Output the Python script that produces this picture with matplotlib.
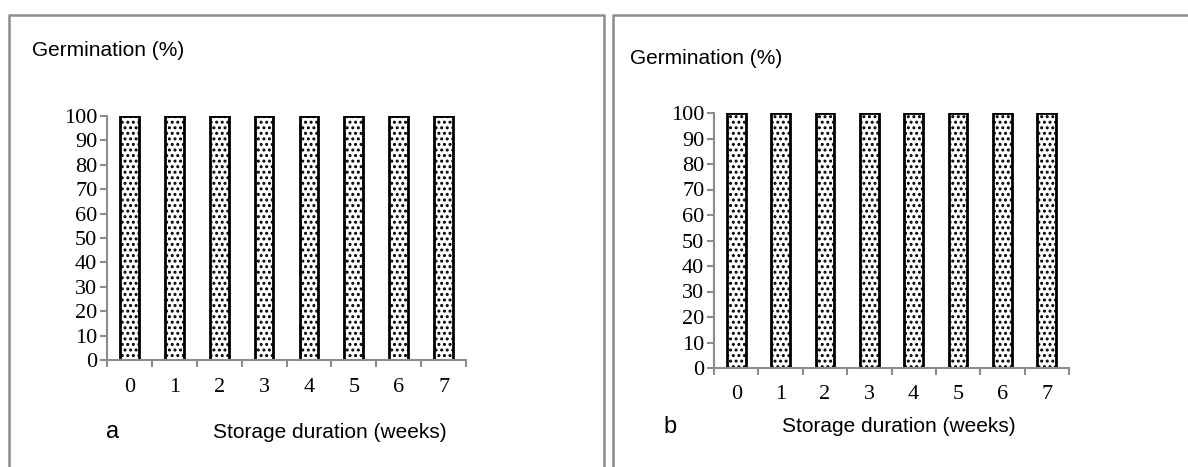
import numpy as np
import matplotlib
matplotlib.use("Agg")
import matplotlib.pyplot as plt
from matplotlib.lines import Line2D

# data
weeks = [0, 1, 2, 3, 4, 5, 6, 7]
germ_a = [100, 100, 100, 100, 100, 100, 100, 100]
germ_b = [100, 100, 100, 100, 100, 100, 100, 100]
yticks = [0, 10, 20, 30, 40, 50, 60, 70, 80, 90, 100]

W, H = 1188, 467
plt.rcParams['hatch.linewidth'] = 1.4
fig = plt.figure(figsize=(W / 100, H / 100), dpi=100)

def px(x, y):
    return x / W, 1 - y / H

def panel(rect, vals, pad):
    ax = fig.add_axes(rect)
    x = np.arange(len(weeks))
    ax.bar(x, vals, width=0.42, color='white', edgecolor='black',
           linewidth=2, hatch='...')
    ax.set_xlim(-0.5, len(weeks) - 0.5)
    ax.set_ylim(0, 100)
    ax.set_yticks(yticks)
    ax.set_xticks(x)
    ax.set_xticklabels([str(w) for w in weeks])
    ax.set_xticks(np.arange(-0.5, len(weeks)), minor=True)
    for s in ['top', 'right']:
        ax.spines[s].set_visible(False)
    for s in ['left', 'bottom']:
        ax.spines[s].set_color('#8c8c8c')
        ax.spines[s].set_linewidth(1.5)
    ax.tick_params(axis='x', which='major', length=0, pad=pad)
    ax.tick_params(axis='x', which='minor', length=5, width=1.5, color='#8c8c8c', direction='out')
    ax.tick_params(axis='y', length=5, width=1.5, color='#8c8c8c', pad=2)
    for lab in ax.get_xticklabels() + ax.get_yticklabels():
        lab.set_fontfamily('Liberation Serif')
        lab.set_fontsize(16)
    return ax

panel([107 / W, 1 - 360 / H, 359 / W, 244 / H], germ_a, 13)
panel([714 / W, 1 - 368 / H, 355 / W, 255 / H], germ_b, 12)

sans = dict(fontfamily='Liberation Sans', fontsize=15, va='center')
fig.text(*px(32, 50), 'Germination (%)', ha='left', **sans)
fig.text(*px(106, 432), 'a', ha='left', fontfamily='Liberation Sans', fontsize=17, va='center')
fig.text(*px(213, 432), 'Storage duration (weeks)', ha='left', **sans)
fig.text(*px(630, 58), 'Germination (%)', ha='left', **sans)
fig.text(*px(663, 427), 'b', ha='left', fontfamily='Liberation Sans', fontsize=17, va='center')
fig.text(*px(782, 427), 'Storage duration (weeks)', ha='left', **sans)

# panel frames
box = dict(color='#8c8c8c', linewidth=1.8, transform=fig.transFigure)
xa0, ya0 = px(9, 15)
xa1, _ = px(604, 15)
fig.add_artist(Line2D([xa0, xa0, xa1, xa1], [0, ya0, ya0, 0], **box))
xb0, yb0 = px(613, 15)
fig.add_artist(Line2D([xb0, xb0, 1], [0, yb0, yb0], **box))

fig.savefig('out.png', dpi=100)
